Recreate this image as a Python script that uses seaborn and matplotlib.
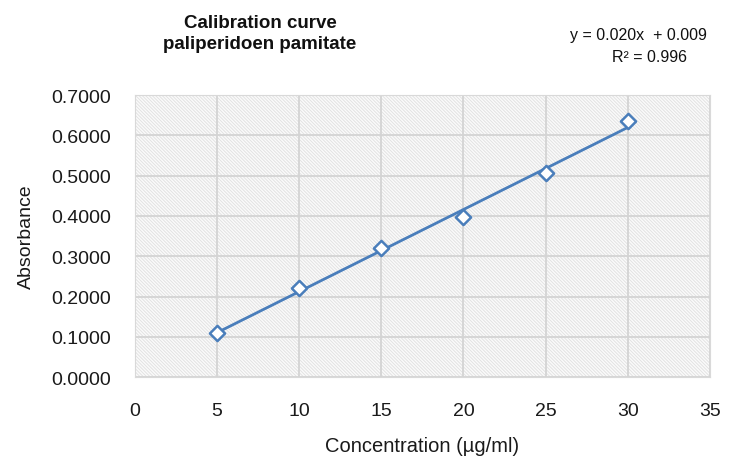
import numpy as np
import pandas as pd
import matplotlib
matplotlib.use('Agg')
import matplotlib.pyplot as plt
from matplotlib.patches import Rectangle
import seaborn as sns

concentration = [5, 10, 15, 20, 25, 30]
absorbance = [0.110, 0.220, 0.320, 0.398, 0.507, 0.635]
x_ticks = [0, 5, 10, 15, 20, 25, 30, 35]
y_ticks = [0.0, 0.1, 0.2, 0.3, 0.4, 0.5, 0.6, 0.7]

sns.set_style('white')
plt.rcParams['font.family'] = ['Liberation Sans', 'DejaVu Sans']
plt.rcParams['hatch.linewidth'] = 0.7

df = pd.DataFrame({'conc': concentration, 'abs': absorbance})
slope, intercept = np.polyfit(df['conc'], df['abs'], 1)
df['fit'] = slope * df['conc'] + intercept
r2 = np.corrcoef(df['conc'], df['abs'])[0, 1] ** 2

blue = '#4a7ebb'
fig = plt.figure(figsize=(7.41, 4.64), dpi=100)
ax = fig.add_axes([0.182, 0.185, 0.776, 0.608])

# hatched plot area like the excel chart
ax.add_patch(Rectangle((0, 0), 1, 1, transform=ax.transAxes, facecolor='#fbfbfb',
                       edgecolor='#e2e2e2', hatch='\\' * 10, lw=0, zorder=0))

sns.lineplot(data=df, x='conc', y='fit', ax=ax, color=blue, linewidth=2.0, zorder=3)
sns.scatterplot(data=df, x='conc', y='abs', ax=ax, marker='D', s=60,
                facecolor='white', edgecolor=blue, linewidth=1.8, zorder=4)

ax.set_xlim(0, 35)
ax.set_ylim(0, 0.7)
ax.set_xticks(x_ticks)
ax.set_yticks(y_ticks)
ax.set_yticklabels([f'{v:.4f}' for v in y_ticks])
ax.grid(True, color='#d4d4d4', linewidth=1.3, zorder=1)
for s in ax.spines.values():
    s.set_color('#d9d9d9')
ax.tick_params(length=0, labelsize=14, colors='#1a1a1a')
ax.tick_params(axis='y', pad=17)
ax.tick_params(axis='x', pad=18)
ax.set_xlabel('Concentration (µg/ml)', fontsize=14.5, color='#1a1a1a', labelpad=12)
ax.set_ylabel('Absorbance', fontsize=14, color='#1a1a1a', labelpad=12)

fig.text(0.351, 0.926, 'Calibration curve\npaliperidoen pamitate', ha='center', va='center',
         fontsize=13.5, fontweight='bold', color='#111111', linespacing=1.3)
fig.text(0.862, 0.923, f'y = {slope:.3f}x  + {intercept:.3f}', ha='center', va='center',
         fontsize=11.5, color='#111111')
fig.text(0.877, 0.876, f'R² = {r2:.3f}', ha='center', va='center',
         fontsize=11.5, color='#111111')

fig.savefig('out.png', dpi=100)
